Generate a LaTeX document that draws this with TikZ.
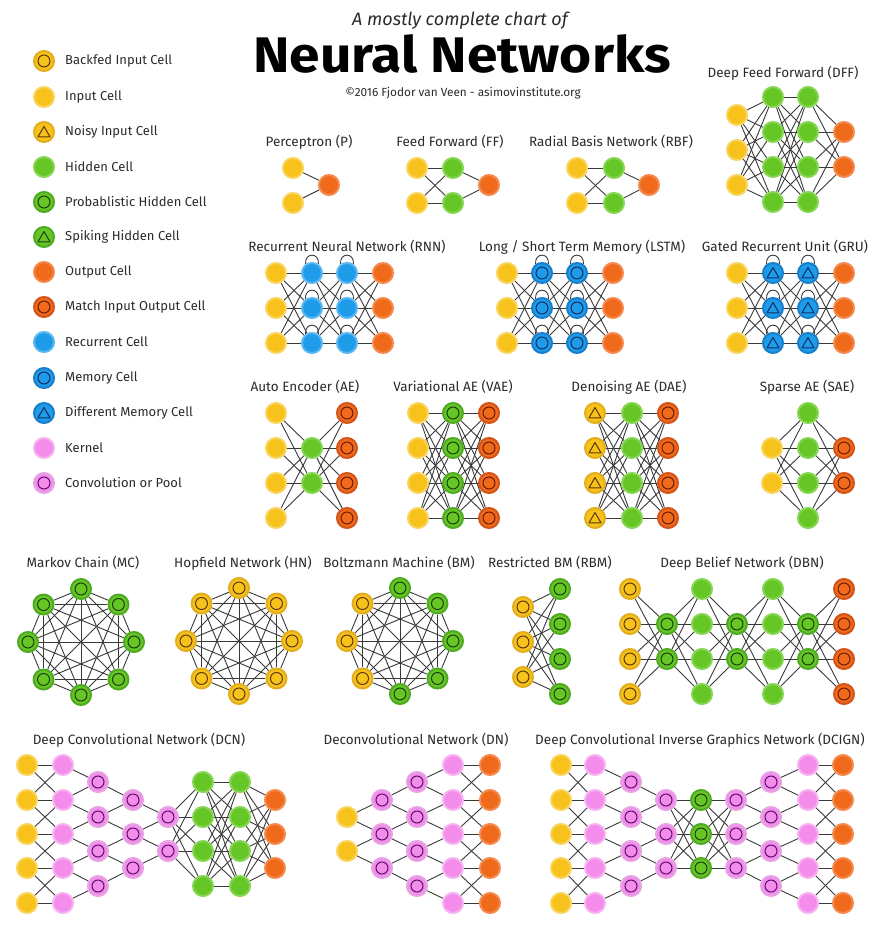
\documentclass[tikz,border=0pt]{standalone}
\usepackage{fontspec}
\setmainfont{Fira Sans}
\usetikzlibrary{backgrounds}
\definecolor{cy}{HTML}{F7C21B}
\definecolor{cyr}{HTML}{F9D45E}
\definecolor{cyd}{HTML}{E2AE1E}
\definecolor{cyi}{HTML}{5C3A05}
\definecolor{cg}{HTML}{66C625}
\definecolor{cgr}{HTML}{86D653}
\definecolor{cgd}{HTML}{4DAA22}
\definecolor{cgi}{HTML}{1E3F0C}
\definecolor{co}{HTML}{F06A1C}
\definecolor{cor}{HTML}{F58A4E}
\definecolor{cod}{HTML}{D35418}
\definecolor{coi}{HTML}{6E1A05}
\definecolor{cb}{HTML}{1E9CEA}
\definecolor{cbr}{HTML}{5AB8F0}
\definecolor{cbd}{HTML}{1A7FCB}
\definecolor{cbi}{HTML}{0B2F66}
\definecolor{cp}{HTML}{F38CEA}
\definecolor{cpr}{HTML}{F7B3F1}
\definecolor{cpd}{HTML}{E7A2E4}
\definecolor{cpi}{HTML}{5E0F6E}
\definecolor{edgec}{HTML}{3A3A3A}
\definecolor{txt}{HTML}{2B2B2B}
\tikzset{
  cell/.style={circle, minimum size=20pt, inner sep=0pt, line width=2pt},
  inner circ/.style={path picture={\draw[#1, line width=1pt] (path picture bounding box.center) circle[radius=6pt];}},
  inner tri/.style={path picture={\draw[#1, line width=1pt, line join=round]
     ([shift={(0pt,5.5pt)}]path picture bounding box.center) --
     ([shift={(-6pt,-4.8pt)}]path picture bounding box.center) --
     ([shift={(6pt,-4.8pt)}]path picture bounding box.center) -- cycle;}},
  inp/.style={cell, fill=cy, draw=cyr},
  back/.style={cell, fill=cy, draw=cyd, inner circ=cyi},
  noisy/.style={cell, fill=cy, draw=cyd, inner tri=cyi},
  hid/.style={cell, fill=cg, draw=cgr},
  prob/.style={cell, fill=cg, draw=cgd, inner circ=cgi},
  spike/.style={cell, fill=cg, draw=cgd, inner tri=cgi},
  outc/.style={cell, fill=co, draw=cor},
  match/.style={cell, fill=co, draw=cod, inner circ=coi},
  rec/.style={cell, fill=cb, draw=cbr},
  mem/.style={cell, fill=cb, draw=cbd, inner circ=cbi},
  dmem/.style={cell, fill=cb, draw=cbd, inner tri=cbi},
  kern/.style={cell, fill=cp, draw=cpr},
  conv/.style={cell, fill=cp, draw=cpd, inner circ=cpi},
  edge/.style={draw=edgec, line width=0.9pt},
  lbl/.style={font=\fontsize{13.5}{15}\selectfont, text=txt, inner sep=0pt},
  leg/.style={font=\fontsize{13}{15}\selectfont, text=txt, inner sep=0pt, anchor=west},
}
\newcommand\netlay[5]{\foreach \yy [count=\k] in {#5} {\node[#3] (#1-#2-\k) at (#4,-\yy) {};}}
\newcommand\netfull[5]{\foreach \i in {1,...,#3} {\foreach \j in {1,...,#5} {\draw[edge] (#1-#2-\i) -- (#1-#4-\j);}}}
\newcommand\netexp[4]{\foreach \i [evaluate=\i as \ii using int(\i+1)] in {1,...,#4} {\draw[edge] (#1-#2-\i) -- (#1-#3-\i); \draw[edge] (#1-#2-\i) -- (#1-#3-\ii);}}
\newcommand\netcon[4]{\foreach \j [evaluate=\j as \jj using int(\j+1)] in {1,...,#4} {\draw[edge] (#1-#3-\j) -- (#1-#2-\j); \draw[edge] (#1-#3-\j) -- (#1-#2-\jj);}}
\newcommand\netband[4]{\foreach \i in {1,...,#4} {\draw[edge] (#1-#2-\i) -- (#1-#3-\i);}
  \foreach \i [evaluate=\i as \ii using int(\i-1)] in {2,...,#4} {\draw[edge] (#1-#2-\i) -- (#1-#3-\ii); \draw[edge] (#1-#2-\ii) -- (#1-#3-\i);}}
\newcommand\netclique[1]{\foreach \i in {1,...,8} {\foreach \j in {1,...,8} {\ifnum\i<\j \draw[edge] (#1-\i) -- (#1-\j);\fi}}}
\newcommand\netloop[1]{\draw[edge] (#1.126) .. controls +(95:12pt) and +(85:12pt) .. (#1.54);}
\newcommand\netloops[1]{\foreach \c in {2,3} {\foreach \r in {1,2,3} {\netloop{#1-\c-\r}}}}
\begin{document}
\begin{tikzpicture}[x=1pt,y=1pt]
\useasboundingbox (0,0) rectangle (878,-928);
% titles
\node[font=\fontsize{18}{20}\selectfont\itshape, text=txt, inner sep=0pt, anchor=base] (h0) at (460,-26) {A mostly complete chart of};
\node[font=\fontsize{50}{56}\selectfont\bfseries, text=black, inner sep=0pt, anchor=base] (h1) at (462,-73) {\scalebox{1.1}[1]{Neural Networks}};
\node[font=\fontsize{11.8}{13}\selectfont, text=txt, inner sep=0pt, anchor=base] (h2) at (463,-97) {©2016 Fjodor van Veen - asimovinstitute.org};
% legend
\foreach \s/\yy/\t [count=\k] in {back/61/Backfed Input Cell, inp/97/Input Cell, noisy/132/Noisy Input Cell, hid/167/Hidden Cell, prob/202/Probablistic Hidden Cell, spike/237/Spiking Hidden Cell, outc/272/Output Cell, match/307/Match Input Output Cell, rec/342/Recurrent Cell, mem/378/Memory Cell, dmem/413/Different Memory Cell, kern/448/Kernel, conv/483/Convolution or Pool}
  {\node[\s] (leg-\k) at (44,-\yy) {};
   \node[leg] (legt-\k) at (65,-\yy) {\t};}
% labels
\node[lbl] (t-p) at (309,-142) {Perceptron (P)};
\node[lbl] (t-ff) at (450,-142) {Feed Forward (FF)};
\node[lbl] (t-rbf) at (611,-142) {Radial Basis Network (RBF)};
\node[lbl] (t-dff) at (783,-73) {Deep Feed Forward (DFF)};
\node[lbl] (t-rnn) at (347,-247) {Recurrent Neural Network (RNN)};
\node[lbl] (t-lstm) at (582,-247) {Long / Short Term Memory (LSTM)};
\node[lbl] (t-gru) at (785,-247) {Gated Recurrent Unit (GRU)};
\node[lbl] (t-ae) at (305,-387) {Auto Encoder (AE)};
\node[lbl] (t-vae) at (453,-387) {Variational AE (VAE)};
\node[lbl] (t-dae) at (629,-387) {Denoising AE (DAE)};
\node[lbl] (t-sae) at (807,-387) {Sparse AE (SAE)};
\node[lbl] (t-mc) at (83,-563) {Markov Chain (MC)};
\node[lbl] (t-hn) at (243,-563) {Hopfield Network (HN)};
\node[lbl] (t-bm) at (399,-563) {Boltzmann Machine (BM)};
\node[lbl] (t-rbm) at (550,-563) {Restricted BM (RBM)};
\node[lbl] (t-dbn) at (742,-563) {Deep Belief Network (DBN)};
\node[lbl] (t-dcn) at (139,-740) {Deep Convolutional Network (DCN)};
\node[lbl] (t-dn) at (416,-740) {Deconvolutional Network (DN)};
\node[lbl] (t-dg) at (700,-740) {Deep Convolutional Inverse Graphics Network (DCIGN)};
% P
\netlay{p}{1}{inp}{293}{168,203}
\netlay{p}{2}{outc}{329}{185}
% FF
\netlay{ff}{1}{inp}{417}{168,203}
\netlay{ff}{2}{hid}{453}{168,203}
\netlay{ff}{3}{outc}{489}{185}
% RBF
\netlay{rbf}{1}{inp}{577}{168,203}
\netlay{rbf}{2}{hid}{614}{168,203}
\netlay{rbf}{3}{outc}{649}{185}
% DFF
\netlay{dff}{1}{inp}{737}{115,150,185}
\netlay{dff}{2}{hid}{773}{97,132,167,202}
\netlay{dff}{3}{hid}{808}{97,132,167,202}
\netlay{dff}{4}{outc}{844}{132,167}
% RNN
\netlay{rnn}{1}{inp}{276}{273,308,343}
\netlay{rnn}{2}{rec}{312}{273,308,343}
\netlay{rnn}{3}{rec}{347}{273,308,343}
\netlay{rnn}{4}{outc}{383}{273,308,343}
% LSTM
\netlay{lstm}{1}{inp}{507}{273,308,343}
\netlay{lstm}{2}{mem}{542}{273,308,343}
\netlay{lstm}{3}{mem}{577}{273,308,343}
\netlay{lstm}{4}{outc}{613}{273,308,343}
% GRU
\netlay{gru}{1}{inp}{737}{273,308,343}
\netlay{gru}{2}{dmem}{773}{273,308,343}
\netlay{gru}{3}{dmem}{808}{273,308,343}
\netlay{gru}{4}{outc}{844}{273,308,343}
% AE
\netlay{ae}{1}{inp}{276}{413,448,483,518}
\netlay{ae}{2}{hid}{312}{448,483}
\netlay{ae}{3}{match}{347}{413,448,483,518}
% VAE
\netlay{vae}{1}{inp}{418}{413,448,483,518}
\netlay{vae}{2}{prob}{453}{413,448,483,518}
\netlay{vae}{3}{match}{489}{413,448,483,518}
% DAE
\netlay{dae}{1}{noisy}{595}{413,448,483,518}
\netlay{dae}{2}{hid}{632}{413,448,483,518}
\netlay{dae}{3}{match}{668}{413,448,483,518}
% SAE
\netlay{sae}{1}{inp}{772}{448,483}
\netlay{sae}{2}{hid}{808}{413,448,483,518}
\netlay{sae}{3}{match}{844}{448,483}
% MC, HN, BM
\foreach \a [count=\k] in {90,135,180,225,270,315,0,45}
  {\node[prob] (mc-\k) at ([shift={(\a:53)}]81,-642) {};
   \node[back] (hn-\k) at ([shift={(\a:53)}]239,-641) {};}
\foreach \a/\s [count=\k] in {90/prob,135/back,180/back,225/back,270/prob,315/prob,0/prob,45/prob}
  {\node[\s] (bm-\k) at ([shift={(\a:53)}]400,-641) {};}
% RBM
\netlay{rbm}{1}{back}{523}{607,642,677}
\netlay{rbm}{2}{prob}{560}{589,624,659,694}
% DBN
\netlay{dbn}{1}{back}{630}{589,624,659,694}
\netlay{dbn}{2}{prob}{667}{624,659}
\netlay{dbn}{3}{hid}{702}{589,624,659,694}
\netlay{dbn}{4}{prob}{737}{624,659}
\netlay{dbn}{5}{hid}{773}{589,624,659,694}
\netlay{dbn}{6}{prob}{808}{624,659}
\netlay{dbn}{7}{match}{844}{589,624,659,694}
% DCN
\netlay{dcn}{1}{inp}{27}{765,800,834,868,903}
\netlay{dcn}{2}{kern}{63}{765,800,834,868,903}
\netlay{dcn}{3}{conv}{98}{782,817,851,886}
\netlay{dcn}{4}{conv}{133}{800,834,868}
\netlay{dcn}{5}{conv}{168}{817,851}
\netlay{dcn}{6}{hid}{203}{782,817,851,886}
\netlay{dcn}{7}{hid}{240}{782,817,851,886}
\netlay{dcn}{8}{outc}{275}{800,834,868}
% DN
\netlay{dn}{1}{inp}{347}{817,851}
\netlay{dn}{2}{conv}{382}{800,834,868}
\netlay{dn}{3}{conv}{417}{782,817,851,886}
\netlay{dn}{4}{kern}{453}{765,800,834,868,903}
\netlay{dn}{5}{outc}{490}{765,800,834,868,903}
% DCIGN
\netlay{dg}{1}{inp}{561}{765,800,834,868,903}
\netlay{dg}{2}{kern}{595}{765,800,834,868,903}
\netlay{dg}{3}{conv}{631}{782,817,851,886}
\netlay{dg}{4}{conv}{666}{800,834,868}
\netlay{dg}{5}{prob}{701}{800,834,868}
\netlay{dg}{6}{conv}{736}{800,834,868}
\netlay{dg}{7}{conv}{771}{782,817,851,886}
\netlay{dg}{8}{kern}{808}{765,800,834,868,903}
\netlay{dg}{9}{outc}{843}{765,800,834,868,903}
% connectors
\begin{pgfonlayer}{background}
\fill[white] (0,0) rectangle (878,-928);
\netfull{p}{1}{2}{2}{1}
\netfull{ff}{1}{2}{2}{2}\netfull{ff}{2}{2}{3}{1}
\netfull{rbf}{1}{2}{2}{2}\netfull{rbf}{2}{2}{3}{1}
\netfull{dff}{1}{3}{2}{4}\netfull{dff}{2}{4}{3}{4}\netfull{dff}{3}{4}{4}{2}
\netfull{rnn}{1}{3}{2}{3}\netfull{rnn}{2}{3}{3}{3}\netfull{rnn}{3}{3}{4}{3}\netloops{rnn}
\netfull{lstm}{1}{3}{2}{3}\netfull{lstm}{2}{3}{3}{3}\netfull{lstm}{3}{3}{4}{3}\netloops{lstm}
\netfull{gru}{1}{3}{2}{3}\netfull{gru}{2}{3}{3}{3}\netfull{gru}{3}{3}{4}{3}\netloops{gru}
\netfull{ae}{1}{4}{2}{2}\netfull{ae}{2}{2}{3}{4}
\netfull{vae}{1}{4}{2}{4}\netfull{vae}{2}{4}{3}{4}
\netfull{dae}{1}{4}{2}{4}\netfull{dae}{2}{4}{3}{4}
\netfull{sae}{1}{2}{2}{4}\netfull{sae}{2}{4}{3}{2}
\netclique{mc}\netclique{hn}\netclique{bm}
\netfull{rbm}{1}{3}{2}{4}
\netfull{dbn}{1}{4}{2}{2}\netfull{dbn}{2}{2}{3}{4}\netfull{dbn}{3}{4}{4}{2}
\netfull{dbn}{4}{2}{5}{4}\netfull{dbn}{5}{4}{6}{2}\netfull{dbn}{6}{2}{7}{4}
\netband{dcn}{1}{2}{5}\netcon{dcn}{2}{3}{4}\netcon{dcn}{3}{4}{3}\netcon{dcn}{4}{5}{2}
\netfull{dcn}{5}{2}{6}{4}\netfull{dcn}{6}{4}{7}{4}\netfull{dcn}{7}{4}{8}{3}
\netexp{dn}{1}{2}{2}\netexp{dn}{2}{3}{3}\netexp{dn}{3}{4}{4}\netband{dn}{4}{5}{5}
\netband{dg}{1}{2}{5}\netcon{dg}{2}{3}{4}\netcon{dg}{3}{4}{3}
\netfull{dg}{4}{3}{5}{3}\netfull{dg}{5}{3}{6}{3}
\netexp{dg}{6}{7}{3}\netexp{dg}{7}{8}{4}\netband{dg}{8}{9}{5}
\end{pgfonlayer}
\end{tikzpicture}
\end{document}
